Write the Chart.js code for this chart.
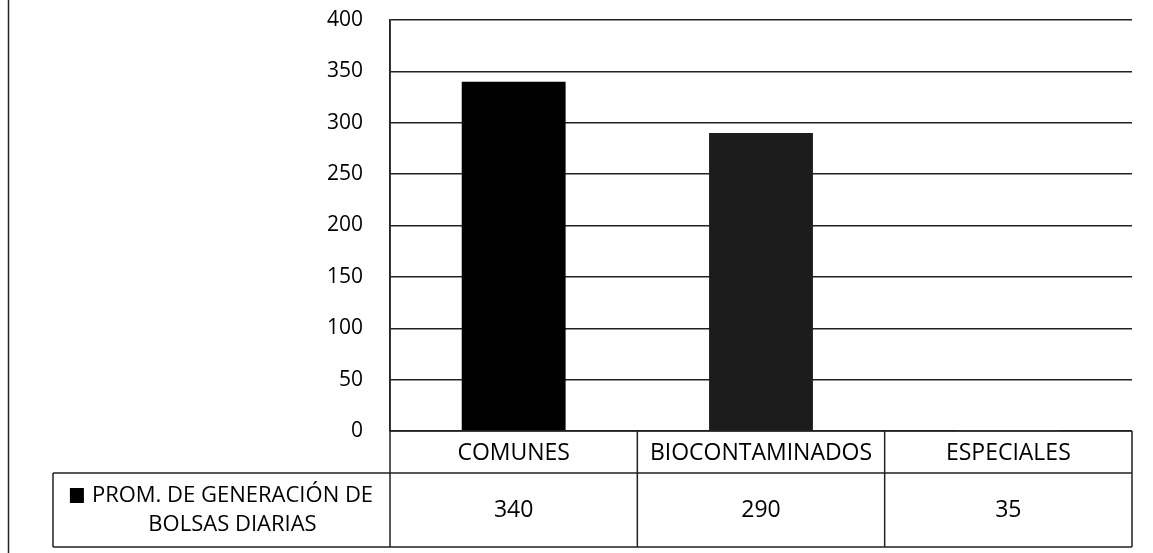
<!DOCTYPE html>
<html lang="es">
<head>
    <meta charset="UTF-8">
    <title>Prom. de generación de bolsas diarias</title>
    <script src="https://cdn.jsdelivr.net/npm/chart.js"></script>
    <style>
        html, body {
            margin: 0;
            padding: 0;
            background: #ffffff;
        }
        #wrap {
            width: 1153px;
            height: 553px;
        }
    </style>
</head>
<body>
    <div id="wrap"><canvas id="bolsasChart"></canvas></div>
    <script>
        // data
        const categories = ["COMUNES", "BIOCONTAMINADOS", "ESPECIALES"];
        const bolsasDiarias = [340, 290, 35];
        const seriesName = ["PROM. DE GENERACIÓN DE", "BOLSAS DIARIAS"];
        const yTicks = [0, 50, 100, 150, 200, 250, 300, 350, 400];

        const FONT = "'Open Sans', 'DejaVu Sans', sans-serif";
        const LINE = "#222";

        // draws the data table under the plot (Excel style)
        const dataTable = {
            id: "dataTable",
            afterDraw(chart) {
                const ctx = chart.ctx;
                const area = chart.chartArea;
                const x = chart.scales.x;
                const top = area.bottom;
                const mid = top + 42;
                const bottom = top + 116;
                const legLeft = 53;

                ctx.save();
                ctx.strokeStyle = LINE;
                ctx.lineWidth = 1.5;
                ctx.beginPath();
                // scan page edge
                ctx.moveTo(8.5, 0);
                ctx.lineTo(8.5, 553);
                // axis line down through the table
                ctx.moveTo(area.left, area.top);
                ctx.lineTo(area.left, bottom);
                ctx.moveTo(area.left, top);
                ctx.lineTo(area.right, top);
                ctx.moveTo(legLeft, mid);
                ctx.lineTo(area.right, mid);
                ctx.moveTo(legLeft, bottom);
                ctx.lineTo(area.right, bottom);
                ctx.moveTo(legLeft, mid);
                ctx.lineTo(legLeft, bottom);
                const half = (x.getPixelForValue(1) - x.getPixelForValue(0)) / 2;
                categories.forEach((c, i) => {
                    const r = x.getPixelForValue(i) + half;
                    ctx.moveTo(r, top);
                    ctx.lineTo(r, bottom);
                });
                ctx.stroke();

                ctx.fillStyle = "#000";
                ctx.textAlign = "center";
                ctx.textBaseline = "middle";
                ctx.font = "23px " + FONT;
                categories.forEach((c, i) => {
                    const cx = x.getPixelForValue(i);
                    ctx.fillText(c, cx, (top + mid) / 2 + 1);
                    ctx.fillText(String(bolsasDiarias[i]), cx, (mid + bottom) / 2);
                });

                // legend cell
                ctx.font = "22px " + FONT;
                const lx = (legLeft + area.left) / 2 + 11;
                ctx.fillText(seriesName[0], lx, mid + 23);
                ctx.fillText(seriesName[1], lx, mid + 52);
                const w = ctx.measureText(seriesName[0]).width;
                ctx.fillRect(lx - w / 2 - 22, mid + 15, 14, 15);
                ctx.restore();
            }
        };

        new Chart(document.getElementById("bolsasChart"), {
            type: "bar",
            data: {
                labels: categories,
                datasets: [{
                    label: seriesName.join(" "),
                    data: bolsasDiarias,
                    backgroundColor: ["#000000", "#1c1c1c", "#ffffff"],
                    barPercentage: 0.42,
                    categoryPercentage: 1
                }]
            },
            options: {
                responsive: true,
                maintainAspectRatio: false,
                animation: false,
                layout: {
                    padding: { top: 20, right: 21, bottom: 122, left: 0 }
                },
                plugins: {
                    legend: { display: false },
                    tooltip: { enabled: false }
                },
                scales: {
                    x: {
                        display: false
                    },
                    y: {
                        min: yTicks[0],
                        max: yTicks[yTicks.length - 1],
                        afterFit(scale) { scale.width = 390; },
                        afterBuildTicks(scale) {
                            scale.ticks = yTicks.map(v => ({ value: v }));
                        },
                        ticks: {
                            padding: 0,
                            color: "#000",
                            font: { family: FONT, size: 21 }
                        },
                        grid: {
                            color: LINE,
                            lineWidth: 1.5,
                            drawTicks: true,
                            tickLength: 27,
                            tickColor: "rgba(0,0,0,0)"
                        },
                        border: { display: true, color: LINE, width: 1.5 }
                    }
                }
            },
            plugins: [dataTable]
        });
    </script>
</body>
</html>
